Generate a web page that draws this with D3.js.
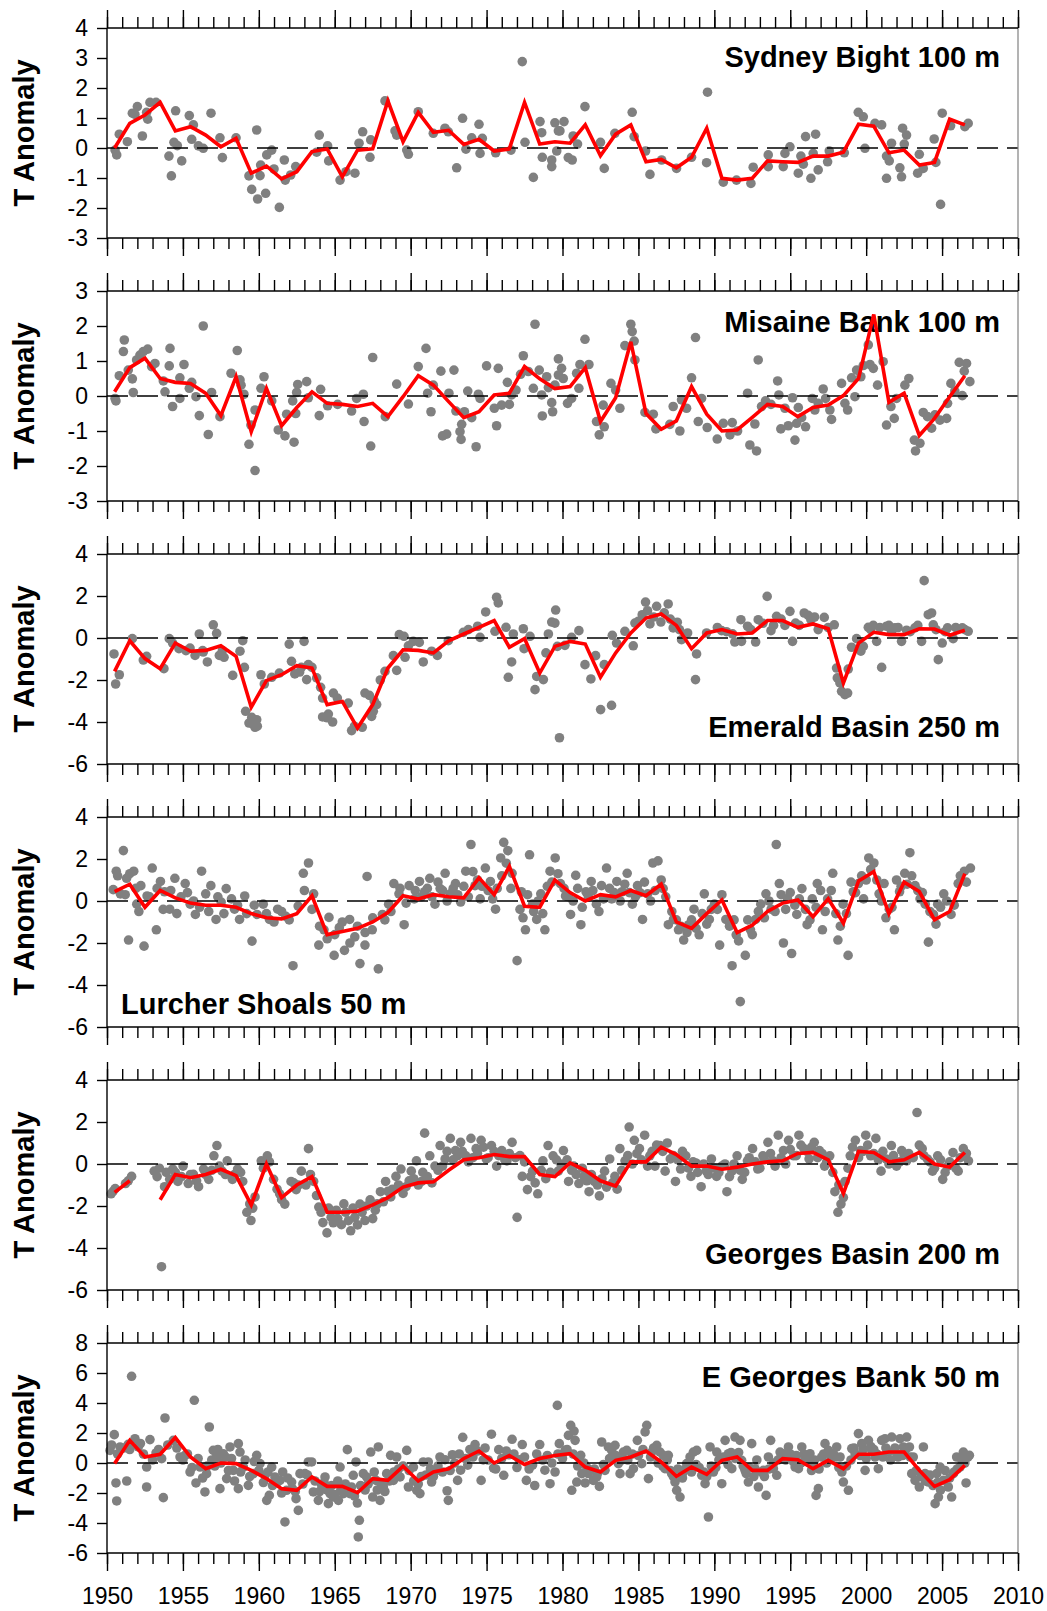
<!DOCTYPE html>
<meta charset="utf-8">
<style>
  body { margin: 0; background: #fff; }
  svg { font-family: "Liberation Sans", Arial, sans-serif; }
  .dot { fill: #808080; }
  .mean { fill: none; stroke: #ff0000; stroke-width: 3.6px; }
  .zero { stroke: #000; stroke-width: 1.5px; stroke-dasharray: 21,9; }
  .axis path { display: none; }
  .axis line { stroke: #000; stroke-width: 1.4px; }
  .axis text { font-size: 23px; fill: #000; }
  .frame { stroke: #000; stroke-width: 1.4px; }
  .frame-right { stroke: #808080; stroke-width: 1.2px; }
  .title, .ylabel { font-size: 29px; font-weight: bold; fill: #000; }
</style>
<svg width="1047" height="1611"></svg>
<script src="https://d3js.org/d3.v7.min.js"></script>
<script>

// annual means, one value per year from 1950 to 2006
var sydneyMean = [0.0, 0.82, 1.1, 1.52, 0.57, 0.71, 0.43, 0.04, 0.32, -0.84,
  -0.6, -1.03, -0.79, -0.12, -0.03, -0.96, -0.07, -0.03, 1.57, 0.21,
  1.19, 0.52, 0.59, 0.12, 0.29, -0.1, -0.03, 1.52, 0.13, 0.21,
  0.16, 0.77, -0.26, 0.46, 0.77, -0.46, -0.38, -0.66, -0.31, 0.66,
  -1.01, -1.07, -1.01, -0.43, -0.46, -0.48, -0.27, -0.27, -0.14, 0.79,
  0.73, -0.16, -0.07, -0.57, -0.48, 0.96, 0.77];

var misaineMean = [0.12, 0.81, 1.08, 0.5, 0.39, 0.36, 0.08, -0.56, 0.55, -1.02,
  0.22, -0.85, -0.33, 0.12, -0.21, -0.24, -0.3, -0.21, -0.59, -0.02,
  0.58, 0.31, -0.16, -0.62, -0.45, 0.03, 0.08, 0.84, 0.49, 0.21,
  0.27, 0.81, -0.73, -0.05, 1.55, -0.5, -0.95, -0.71, 0.27, -0.52,
  -1.0, -0.97, -0.61, -0.24, -0.3, -0.59, -0.33, -0.26, 0.01, 0.5,
  2.33, -0.18, 0.08, -1.13, -0.64, -0.02, 0.58];

var emeraldMean = [-1.59, -0.13, -0.98, -1.46, -0.24, -0.63, -0.59, -0.37, -0.87, -3.3,
  -2.03, -1.75, -1.32, -1.43, -3.17, -3.02, -4.29, -3.17, -1.43, -0.56,
  -0.59, -0.71, -0.13, 0.19, 0.51, 0.83, -0.44, -0.03, -1.67, -0.4,
  -0.16, -0.29, -1.87, -0.71, 0.24, 0.95, 1.14, 0.6, -0.51, 0.24,
  0.4, 0.19, 0.24, 0.83, 0.83, 0.51, 0.67, 0.44, -2.14, -0.24,
  0.27, 0.16, 0.16, 0.44, 0.43, 0.13, 0.37];

var lurcherMean = [0.45, 0.8, -0.3, 0.5, 0.15, -0.1, -0.2, -0.2, -0.3, -0.6,
  -0.8, -0.85, -0.6, 0.25, -1.6, -1.45, -1.3, -1.0, -0.55, 0.25,
  0.1, 0.3, 0.2, 0.15, 1.1, 0.3, 1.65, -0.25, -0.3, 1.0,
  0.4, 0.0, 0.3, 0.2, 0.5, 0.25, 0.8, -1.0, -1.3, -0.6,
  0.05, -1.5, -1.15, -0.5, -0.1, 0.05, -0.75, 0.1, -1.05, 0.95,
  1.4, -0.6, 0.9, 0.45, -0.9, -0.5, 1.3];

var georgesBasinMean = [-1.35, -0.8, null, -1.7, -0.5, -0.65, -0.5, -0.25, -0.55, -1.95,
  0.0, -1.6, -1.0, -0.6, -2.3, -2.3, -2.25, -1.95, -1.6, -1.1,
  -0.9, -0.85, -0.3, 0.2, 0.3, 0.45, 0.35, 0.35, -0.5, -0.6,
  0.05, -0.3, -0.8, -1.05, 0.1, 0.1, 0.8, 0.45, -0.1, -0.1,
  -0.25, -0.15, 0.0, 0.1, 0.15, 0.5, 0.55, 0.2, -1.4, 0.6,
  0.55, 0.1, 0.2, 0.55, 0.0, -0.15, 0.55];

var eGeorgesMean = [-0.04, 1.51, 0.4, 0.58, 1.69, 0.4, -0.38, 0.0, -0.04, -0.49,
  -1.04, -1.71, -1.82, -0.93, -1.56, -1.56, -1.98, -1.04, -1.16, -0.22,
  -1.2, -0.6, -0.38, 0.3, 0.8, 0.0, 0.5, -0.1, 0.3, 0.5,
  0.62, -0.27, -0.6, 0.18, 0.4, 0.8, 0.07, -0.89, -0.27, -0.76,
  0.18, 0.4, -0.49, -0.49, 0.29, 0.22, -0.38, 0.18, -0.38, 0.58,
  0.58, 0.73, 0.73, -0.49, -1.56, -1.11, -0.16];

// individual observations: [decimal year, anomaly]
var sydneyObs = [[1950.53,-0.07],[1950.64,-0.23],[1950.81,0.46],[1951.34,0.21],[1951.67,1.16],[1952.0,1.38],[1951.84,1.12],[1952.33,0.4],[1952.61,1.19],[1952.68,0.96],[1952.83,1.52],[1953.23,1.52],[1954.08,-0.27],[1954.24,-0.93],[1954.41,0.19],[1954.52,1.24],[1954.63,0.08],[1954.92,-0.43],[1955.42,1.08],[1955.58,0.29],[1955.69,0.77],[1956.02,0.07],[1956.34,-0.01],[1956.85,1.16],[1957.44,0.34],[1957.6,-0.32],[1958.5,0.34],[1959.35,-0.93],[1959.53,-1.38],[1959.86,0.6],[1959.92,-1.7],[1960.08,-0.92],[1960.12,-0.57],[1960.45,-1.51],[1960.52,-0.23],[1960.85,-0.07],[1961.0,-0.7],[1961.35,-1.98],[1961.68,-0.4],[1961.74,-1.07],[1962.1,-0.9],[1962.43,-0.62],[1963.81,-0.14],[1963.98,0.43],[1964.53,0.07],[1964.6,-0.43],[1965.35,-1.07],[1965.74,-0.79],[1966.33,-0.84],[1966.6,0.16],[1966.84,0.54],[1967.32,-0.31],[1967.37,0.27],[1968.31,1.57],[1968.97,0.57],[1969.08,0.43],[1969.74,-0.07],[1969.85,-0.21],[1970.5,1.21],[1971.49,0.49],[1972.26,0.66],[1972.48,0.54],[1973.03,-0.66],[1973.42,0.99],[1973.64,-0.04],[1974.02,0.34],[1974.5,0.79],[1974.57,-0.18],[1974.72,0.32],[1975.6,-0.16],[1976.61,-0.07],[1977.35,2.88],[1977.53,0.19],[1978.08,-0.98],[1978.52,0.88],[1978.63,0.51],[1978.67,-0.31],[1979.29,-0.4],[1979.29,-0.62],[1979.5,0.84],[1979.62,-0.1],[1979.73,0.57],
  [1979.83,0.57],[1980.1,0.88],[1980.38,-0.32],[1980.64,-0.4],[1980.7,0.4],[1980.99,0.13],[1981.48,1.38],[1982.5,0.19],[1982.75,-0.68],[1983.45,0.49],[1984.59,1.19],[1984.72,0.38],[1985.47,-0.1],[1985.76,-0.88],[1986.53,-0.4],[1987.51,-0.68],[1988.5,-0.31],[1989.55,1.86],[1989.49,-0.49],[1990.59,-1.14],[1991.46,-1.07],[1992.41,-1.18],[1992.56,-0.64],[1993.55,-0.23],[1993.55,-0.62],[1994.54,-0.62],[1994.65,-0.18],[1994.98,0.04],[1995.53,-0.84],[1995.7,-0.27],[1995.86,-0.54],[1996.01,0.38],[1996.36,-1.01],[1996.51,-0.18],[1996.67,0.46],[1996.84,-0.73],[1997.46,-0.46],[1997.57,-0.1],[1998.56,-0.16],[1999.48,1.19],[1999.81,1.04],[1999.92,-0.01],[2000.58,0.82],[2001.02,0.77],[2001.34,-0.27],[2001.34,-1.01],[2001.52,-0.43],[2001.67,0.16],[2002.22,-0.66],[2002.33,-0.96],[2002.4,0.66],[2002.51,0.13],[2002.66,0.43],[2003.39,-0.84],[2003.5,-0.21],[2003.76,-0.68],[2004.48,0.3],[2004.59,-0.48],[2004.9,-1.88],[2005.01,1.16],[2005.56,0.74],[2006.5,0.71],[2006.72,0.82]];

var misaineObs = [[1950.53,-0.07],[1950.59,-0.14],[1950.81,0.58],[1951.08,1.27],[1951.14,1.6],[1951.4,0.74],[1951.67,0.49],[1951.73,0.1],[1951.95,1.03],[1952.17,1.17],[1952.39,1.27],[1952.68,1.34],[1952.94,0.84],[1953.16,0.93],[1953.71,0.43],[1953.82,0.12],[1954.1,0.86],[1954.15,1.36],[1954.32,-0.3],[1954.8,0.52],[1954.8,-0.07],[1955.07,0.9],[1955.42,0.22],[1955.58,0.39],[1955.86,-0.02],[1956.08,-0.56],[1956.34,2.0],[1956.67,-1.1],[1956.89,0.1],[1957.44,-0.59],[1958.17,0.65],[1958.58,1.3],[1958.76,0.46],[1958.83,0.31],[1959.02,0.05],[1959.35,-1.38],[1959.48,-0.83],[1959.75,-2.13],[1959.75,-0.4],[1960.14,0.22],[1960.34,0.55],[1960.85,-0.14],[1961.28,-0.97],[1961.72,-1.14],[1961.83,-0.52],[1962.32,-1.32],[1962.43,-0.5],[1962.23,-0.14],[1962.49,0.1],[1962.56,0.33],[1963.15,0.41],[1963.26,-0.05],[1963.98,-0.56],[1964.07,0.19],[1964.53,-0.28],[1965.19,-0.24],[1966.11,-0.43],[1966.44,-0.07],[1966.88,0.05],[1966.93,-0.73],[1967.37,-1.43],[1967.5,1.1],[1968.33,-0.59],[1969.08,0.34],[1969.85,-0.23],[1970.5,0.84],[1971.01,1.36],[1971.12,0.08],[1971.34,-0.45],[1971.49,0.31],[1971.99,0.71],[1972.1,-1.14],[1972.37,-1.09],[1972.52,0.08],[1972.85,0.74],[1972.98,-0.43],[1973.25,-1.02],[1973.32,-1.24],[1973.36,-0.81],[1973.54,-0.45],[1973.76,0.14],[1974.02,-0.62],[1974.31,-1.45],[1974.46,0.05],[1974.57,-0.07],[1975.0,0.86],[1975.51,-0.35],[1975.66,-0.85],[1975.77,0.79],[1975.99,-0.26],[1976.37,0.39],[1976.5,-0.24],[1976.65,0.03],[1976.94,0.17],[1977.24,0.62],[1977.42,1.15],[1977.75,0.7],[1978.08,0.22],[1978.19,2.05],[1978.47,0.74],[1978.63,0.03],[1978.67,-0.57],[1978.96,0.55],[1979.07,0.24],[1979.29,-0.19],[1979.35,-0.45],[1979.5,0.31],[1979.73,1.06],[1979.73,0.6],
  [1979.94,0.79],[1980.05,0.5],[1980.33,-0.21],[1980.6,-0.07],[1980.93,0.65],[1981.08,0.22],[1981.15,0.9],[1981.48,1.62],[1981.74,0.9],[1982.24,-0.73],[1982.42,-1.11],[1982.75,-0.88],[1982.68,-0.26],[1983.19,0.36],[1983.5,0.17],[1983.78,-0.35],[1984.11,1.44],[1984.5,2.05],[1984.59,1.84],[1984.72,1.57],[1984.77,1.03],[1985.43,-0.47],[1985.98,-0.52],[1986.15,-0.94],[1987.07,-0.81],[1987.73,-1.0],[1987.29,-0.3],[1987.84,-0.11],[1988.17,-0.35],[1988.5,0.52],[1988.76,1.67],[1988.94,-0.73],[1989.16,-0.07],[1989.53,-0.9],[1990.19,-1.23],[1990.59,-0.78],[1991.03,-1.11],[1991.18,-0.76],[1991.53,-1.0],[1992.19,0.08],[1992.34,-1.4],[1992.67,-0.8],[1992.78,-1.57],[1992.89,1.03],[1993.11,-0.3],[1993.37,-0.14],[1993.73,-0.24],[1994.17,0.43],[1994.25,0.03],[1994.38,-0.94],[1994.65,-0.35],[1994.87,-0.85],[1995.15,-0.05],[1995.31,-1.26],[1995.42,-0.78],[1995.53,-0.33],[1995.75,-0.62],[1996.01,-0.88],[1996.45,-0.07],[1996.62,-0.4],[1996.84,-0.21],[1997.17,0.2],[1997.33,-0.07],[1997.61,-0.4],[1997.72,-0.67],[1998.38,0.36],[1998.6,-0.21],[1998.78,-0.4],[1999.04,0.52],[1999.26,-0.02],[1999.37,0.74],[1999.65,0.55],[1999.81,0.87],[2000.14,1.46],[2000.25,0.9],[2000.47,0.79],[2000.75,0.31],[2001.12,0.98],[2001.34,-0.83],[2001.63,-0.3],[2001.85,-0.64],[2002.0,-0.07],[2002.55,0.31],[2002.81,0.5],[2003.17,-1.26],[2003.25,-1.57],[2003.54,-1.35],[2003.76,-0.47],[2004.04,-0.59],[2004.31,-0.92],[2004.53,-0.54],[2004.86,-0.69],[2005.3,-0.64],[2005.36,-0.21],[2005.58,0.36],[2005.84,0.14],[2006.13,0.96],[2006.33,0.01],[2006.46,0.71],[2006.61,0.93],[2006.83,0.41]];

var emeraldObs = [[1950.46,-0.76],[1950.57,-2.19],[1950.81,-1.75],[1951.67,-0.03],[1952.39,-1.05],[1952.61,-0.87],[1953.75,-1.46],[1954.1,-0.03],[1954.32,-0.24],[1954.74,-0.51],[1955.47,-0.48],[1955.8,-0.83],[1956.08,0.19],[1956.34,-0.67],[1956.61,-1.14],[1957.0,0.63],[1957.22,0.22],[1957.4,-0.83],[1957.71,-0.92],[1958.28,-1.78],[1958.76,-0.63],[1958.94,-0.13],[1959.05,-1.4],[1959.13,-3.49],[1959.35,-4.05],[1959.53,-3.78],[1959.75,-4.25],[1959.86,-3.89],[1960.14,-1.75],[1960.36,-2.19],[1960.85,-1.87],[1961.35,-1.67],[1962.0,-0.29],[1962.15,-1.11],[1962.37,-1.71],[1962.69,-1.62],[1962.98,-0.16],[1963.15,-1.98],[1963.26,-1.27],[1963.81,-1.9],[1964.07,-2.35],[1964.2,-2.86],[1964.2,-3.76],[1964.58,-3.62],[1964.86,-4.0],[1964.91,-2.62],[1965.17,-2.86],[1965.89,-3.1],[1966.11,-4.41],[1966.81,-4.25],[1966.99,-2.62],[1967.28,-2.73],[1967.43,-3.73],[1967.76,-3.17],[1967.54,-3.49],[1968.31,-1.59],[1968.86,-0.84],[1969.08,-1.54],[1969.25,0.16],[1969.56,0.08],[1969.63,-0.92],[1969.85,-0.37],[1970.17,-0.16],[1970.57,-0.21],[1970.83,-1.14],[1971.38,-0.63],[1971.76,-0.83],[1972.48,-0.13],[1973.47,0.27],[1973.8,0.4],[1974.41,0.56],[1974.57,0.03],[1974.94,1.24],[1975.66,1.94],[1975.77,1.67],[1975.55,0.32],[1976.28,0.51],[1976.43,-1.87],[1976.65,-1.14],[1976.76,0.19],[1977.42,0.44],[1977.47,-0.51],[1977.86,0.08],[1978.19,-2.46],[1978.3,-1.83],[1978.74,-1.98],[1978.91,-0.71],[1979.07,0.19],[1979.29,0.76],[1979.55,1.33],[1979.66,-0.4],[1979.8,-4.75],
  [1979.5,0.71],[1980.16,-0.35],[1980.6,0.03],[1981.08,0.35],[1981.48,-1.27],[1981.87,-1.95],[1982.18,-0.84],[1982.51,-3.41],[1982.75,-1.27],[1983.23,-3.21],[1983.28,0.13],[1983.56,-0.24],[1984.11,0.32],[1984.66,-0.37],[1984.77,0.71],[1985.25,1.11],[1985.47,1.71],[1985.76,0.67],[1986.2,1.51],[1986.48,0.76],[1986.96,1.62],[1987.29,0.48],[1987.56,0.75],[1987.84,-0.08],[1988.24,0.24],[1988.76,-1.98],[1988.83,-0.76],[1989.49,0.24],[1990.48,0.35],[1991.35,-0.19],[1991.75,0.87],[1991.79,-0.16],[1992.19,0.56],[1992.72,-0.19],[1992.89,0.87],[1993.48,1.98],[1993.73,0.35],[1994.1,1.03],[1994.65,0.6],[1994.98,1.27],[1995.15,-0.16],[1995.35,0.71],[1995.92,1.19],[1996.18,1.08],[1996.36,0.87],[1996.84,0.4],[1997.24,0.98],[1997.9,0.63],[1998.05,-1.43],[1998.27,-2.14],[1998.38,-2.54],[1998.78,-2.62],[1998.82,-1.48],[1999.04,-0.44],[1999.37,-0.03],[1999.65,-0.63],[1999.81,-0.4],[2000.14,0.51],[2000.47,0.6],[2000.69,-0.16],[2001.02,-1.4],[2001.34,0.56],[2001.67,0.32],[2001.89,0.48],[2002.33,-0.16],[2002.66,0.37],[2003.21,0.48],[2003.65,-0.16],[2003.82,2.73],[2004.09,1.11],[2004.31,1.19],[2004.42,0.63],[2004.75,-1.03],[2005.01,-0.24],[2005.36,0.48],[2005.73,-0.03],[2006.33,0.48],[2006.72,0.32],
  [1955.2,-0.6],[1956.3,-0.6],[1957.6,-0.6],[1959.6,-4.1],[1959.9,-4.2],[1962.8,-1.4],[1963.5,-1.4],[1964.5,-3.8],[1966.3,-4.2],[1967.6,-3.0],[1968.0,-2.0],[1985.0,0.8],[1985.6,1.3],[1986.0,1.0],[1986.7,1.2],[1987.1,0.9],[1987.7,0.4],[1990.2,0.5],[1990.8,0.3],[1991.2,0.2],[1992.4,0.4],[1993.2,0.7],[1993.9,0.6],[1994.4,0.9],[1995.6,0.6],[1996.6,1.0],[1997.5,0.5],[1998.1,-1.9],[1998.6,-2.7],[2000.3,0.4],[2000.9,0.5],[2001.5,0.6],[2002.1,0.5],[2002.9,0.3],[2003.4,0.6],[2004.6,0.4],[2005.2,0.3],[2005.9,0.5],[2006.5,0.4]];

var lurcherObs = [[1950.41,0.54],[1950.61,1.42],[1950.88,0.34],[1951.08,2.4],[1951.29,1.08],[1951.42,-1.86],[1951.76,1.42],[1951.96,-0.15],[1952.23,0.73],[1952.44,-2.15],[1952.64,0.24],[1952.98,1.57],[1953.25,-1.37],[1953.52,0.93],[1953.79,0.44],[1954.13,-0.39],[1954.47,1.08],[1954.87,0.2],[1955.15,0.83],[1955.48,-0.15],[1955.82,-0.64],[1956.23,1.42],[1956.5,0.34],[1956.84,0.73],[1957.18,-0.88],[1957.52,-0.05],[1957.85,0.59],[1958.4,-0.39],[1958.73,-0.88],[1959.07,0.24],[1959.55,-1.91],[1959.88,-0.64],[1960.29,-0.15],[1960.7,-0.88],[1961.24,-0.39],[1961.78,-0.73],[1962.25,-3.08],[1962.59,-0.24],[1962.93,1.32],[1963.27,1.81],[1963.61,0.34],[1963.95,-2.1],[1964.29,-1.37],[1964.62,-0.78],[1964.96,-2.59],[1965.3,-1.27],[1965.64,-2.35],[1965.98,-0.88],[1966.32,-1.71],[1966.66,-2.98],[1966.99,-2.1],[1967.13,1.17],[1967.47,-1.37],[1967.87,-3.23],[1968.14,-0.64],[1968.55,-0.15],[1968.89,0.83],[1969.23,0.34],[1969.57,-1.13],[1969.9,0.73],[1970.24,0.1],[1970.58,0.93],[1970.92,0.44],[1971.26,1.08],[1971.6,-0.15],[1971.94,0.59],[1972.27,1.32],[1972.61,0.34],[1972.95,0.83],[1973.29,-0.05],[1973.63,1.42],[1973.97,2.69],[1974.24,0.73],[1974.58,0.1],[1974.92,1.57],[1975.25,0.93],[1975.59,-0.39],[1975.93,2.05],[1976.13,2.79],[1976.4,2.4],[1976.68,1.32],[1977.01,-2.84],[1977.29,0.44],[1977.56,-1.37],[1977.83,2.2],[1978.03,-0.15],[1978.3,-0.88],[1978.57,0.34],[1978.84,-1.37],[1979.18,1.42],[1979.52,2.05],[1979.86,0.83],[1980.2,0.24],[1980.53,-0.64],[1980.87,1.22],[1981.21,-1.13],[1981.55,0.44],[1981.89,0.93],[1982.23,-0.15],[1982.57,0.73],[1982.9,1.57],[1983.24,0.1],[1983.58,0.93],[1983.92,0.44],[1984.26,1.32],[1984.6,-0.15],[1984.94,0.73],[1985.27,-0.88],[1985.61,0.34],[1985.95,1.81],[1986.29,1.91],[1986.63,0.59],[1986.97,-1.13],[1987.31,-0.88],[1987.64,-1.37],[1987.98,-1.86],[1988.32,-1.13],[1988.66,-0.39],[1989.0,-1.61],[1989.34,0.34],[1989.67,-0.88],[1990.01,-0.15],[1990.35,-2.1],[1990.76,-0.88],[1991.17,-3.08],[1991.44,-1.61],[1991.71,-4.79],[1992.04,-2.59],[1992.38,-1.37],[1992.72,-0.88],[1993.06,-0.15],[1993.4,0.34],[1993.74,-0.39],[1994.08,2.69],[1994.28,0.83],[1994.55,-2.0],[1994.82,0.1],[1995.09,-2.5],[1995.43,-0.64],[1995.77,0.59],[1996.11,-1.13],[1996.45,0.1],[1996.78,0.83],[1997.12,-1.37],[1997.46,0.1],[1997.8,1.32],[1998.14,-1.86],[1998.48,-0.15],[1998.81,-2.59],[1999.15,0.44],[1999.49,0.83],[1999.83,0.1],[2000.17,2.05],[2000.51,1.81],[2000.85,0.34],[2001.18,0.83],[2001.52,-0.39],[2001.86,-1.37],[2002.2,0.44],[2002.54,1.32],[2002.88,2.3],[2003.22,0.73],[2003.55,0.1],[2003.89,-0.15],[2004.1,-1.96],[2004.43,-0.64],[2004.71,-0.15],[2005.11,0.34],[2005.59,-0.64],[2006.06,0.83],[2006.47,1.42],[2006.87,1.57],
  [1950.7,1.2],[1951.2,0.3],[1951.5,1.3],[1951.9,0.6],[1952.1,-0.5],[1952.8,0.2],[1953.3,0.6],[1953.7,-0.4],[1954.2,0.5],[1954.6,-0.6],[1955.3,0.4],[1955.7,0.0],[1956.1,-0.3],[1956.7,-0.5],[1957.3,0.2],[1957.7,-0.6],[1958.2,0.1],[1958.6,-0.2],[1959.2,-0.6],[1959.7,-0.2],
  [1960.5,-0.6],[1961.0,-1.0],[1961.5,-0.5],[1962.0,-0.9],[1963.0,0.5],[1963.5,-0.4],[1964.0,-1.2],[1964.5,-1.8],[1965.0,-1.6],[1965.5,-1.0],[1966.0,-2.0],[1966.5,-1.2],[1967.0,-1.5],[1967.5,-0.8],[1968.3,-0.9],[1968.7,-0.5],[1969.3,0.6],[1969.7,-0.1],
  [1970.3,0.5],[1970.7,0.2],[1971.1,0.6],[1971.4,0.2],[1971.8,0.9],[1972.1,0.5],[1972.4,0.0],[1972.8,0.6],[1973.1,0.3],[1973.5,0.7],[1973.8,0.2],[1974.1,1.4],[1974.4,1.0],[1974.7,0.7],[1975.1,0.5],[1975.4,0.1],[1975.7,0.6],[1976.0,1.2],[1976.3,1.8],[1976.6,0.6],[1977.2,-0.4],[1977.4,-0.8],[1977.7,0.3],[1978.1,-0.5],[1978.4,0.0],[1978.7,-0.6],[1979.0,0.7],[1979.3,0.9],[1979.7,1.3],
  [1980.1,0.6],[1980.4,0.2],[1980.7,0.0],[1981.0,0.6],[1981.3,-0.3],[1981.7,0.2],[1982.0,0.5],[1982.4,-0.5],[1982.7,0.1],[1983.1,0.6],[1983.4,0.4],[1983.8,0.0],[1984.1,0.8],[1984.4,0.4],[1984.8,0.2],[1985.1,0.4],[1985.4,0.9],[1985.8,0.0],[1986.1,0.5],[1986.5,1.0],[1986.8,0.2],[1987.2,-0.5],[1987.5,-0.9],[1987.8,-1.2],[1988.2,-1.5],[1988.5,-0.9],[1988.8,-1.3],[1989.2,-0.6],[1989.5,-1.1],[1989.8,-0.4],
  [1990.2,-0.4],[1990.5,0.3],[1991.0,-1.2],[1991.3,-0.9],[1991.6,-1.9],[1992.2,-0.9],[1992.5,-1.6],[1992.9,-0.5],[1993.3,-0.8],[1993.6,0.0],[1994.0,-0.5],[1994.4,0.3],[1994.7,-0.4],[1995.0,0.4],[1995.3,-0.2],[1995.6,0.1],[1996.0,-0.4],[1996.3,-0.9],[1996.7,-0.3],[1997.0,0.5],[1997.3,-0.5],[1997.7,0.5],[1998.0,-0.6],[1998.3,-1.2],[1998.7,-0.6],[1999.0,0.9],[1999.3,0.4],[1999.7,1.2],
  [2000.0,1.0],[2000.3,1.5],[2000.7,1.0],[2001.0,0.0],[2001.3,-0.8],[2001.7,-0.3],[2002.0,1.0],[2002.3,0.7],[2002.7,0.8],[2003.0,1.2],[2003.4,0.5],[2003.7,0.4],[2004.2,-0.5],[2004.6,-1.1],[2004.9,-0.3],[2005.3,0.0],[2005.8,-0.2],[2006.2,1.2],[2006.6,0.9]];

var georgesBasinObs = [[1950.27,-1.42],[1950.54,-1.17],[1951.22,-0.93],[1951.62,-0.59],[1953.11,-0.34],[1953.45,-0.2],[1953.59,-4.89],[1953.79,-1.08],[1954.13,-0.73],[1954.33,-0.24],[1954.67,-0.83],[1955.01,-0.1],[1955.35,-0.93],[1955.69,-0.49],[1956.03,-1.08],[1956.36,-0.24],[1956.7,-0.73],[1957.04,0.39],[1957.24,0.88],[1957.58,-0.34],[1957.92,0.15],[1958.26,-0.73],[1958.6,-0.24],[1958.94,-0.83],[1959.21,-2.3],[1959.48,-2.69],[1959.75,-1.57],[1960.16,0.15],[1960.56,0.39],[1960.97,-0.73],[1961.37,-1.42],[1961.71,-1.91],[1962.12,-0.83],[1962.46,-1.22],[1962.8,-0.34],[1963.27,0.73],[1963.61,-0.83],[1963.95,-2.05],[1964.22,-2.79],[1964.49,-3.28],[1964.76,-2.54],[1965.1,-2.2],[1965.44,-2.89],[1965.71,-2.3],[1966.05,-3.18],[1966.32,-2.54],[1966.66,-1.91],[1966.99,-2.69],[1967.33,-1.71],[1967.67,-2.2],[1968.01,-1.32],[1968.35,-0.83],[1968.69,-1.57],[1969.03,-0.59],[1969.36,-0.24],[1969.7,-1.08],[1970.04,-0.34],[1970.38,0.15],[1970.72,-0.83],[1970.92,1.47],[1971.26,0.39],[1971.6,-0.1],[1971.94,0.88],[1972.27,0.24],[1972.61,1.22],[1972.95,0.64],[1973.29,1.03],[1973.63,0.39],[1973.97,1.22],[1974.31,0.73],[1974.64,1.13],[1974.98,0.24],[1975.32,0.88],[1975.66,-0.1],[1976.0,0.64],[1976.34,0.15],[1976.68,1.03],[1977.01,-2.54],[1977.35,-0.59],[1977.69,-1.22],[1978.03,-0.34],[1978.37,-1.42],[1978.71,0.15],[1979.05,0.88],[1979.38,0.39],[1979.72,-0.34],[1980.06,0.64],[1980.4,-0.83],[1980.74,-0.1],[1981.08,-0.93],[1981.42,-0.59],[1981.75,-1.32],[1982.09,-0.83],[1982.43,-1.52],[1982.77,-0.34],[1983.11,0.24],[1983.45,-0.59],[1983.78,0.73],[1984.12,0.15],[1984.39,1.76],[1984.73,1.13],[1985.07,0.73],[1985.41,1.37],[1985.75,0.39],[1986.09,-0.1],[1986.43,0.88],[1986.76,-0.34],[1987.1,0.24],[1987.44,-0.83],[1987.78,-0.24],[1988.12,0.39],[1988.46,-0.59],[1988.79,0.05],[1989.13,-1.08],[1989.47,-0.34],[1989.81,0.24],[1990.15,-0.59],[1990.49,-0.1],[1990.83,-1.32],[1991.16,-0.34],[1991.5,0.39],[1991.84,-0.73],[1992.18,0.15],[1992.52,0.73],[1992.86,-0.24],[1993.2,0.39],[1993.53,1.03],[1993.87,0.15],[1994.21,1.37],[1994.55,0.64],[1994.89,1.13],[1995.23,0.39],[1995.57,1.37],[1995.9,0.73],[1996.24,0.24],[1996.58,1.03],[1996.92,0.64],[1997.26,-0.1],[1997.6,0.39],[1997.94,-1.32],[1998.14,-2.3],[1998.34,-1.91],[1998.61,-0.83],[1998.95,0.39],[1999.29,1.13],[1999.63,0.64],[1999.97,1.37],[2000.3,0.39],[2000.64,1.22],[2000.98,-0.34],[2001.32,0.24],[2001.66,0.88],[2002.0,-0.1],[2002.34,0.64],[2002.67,0.15],[2003.35,2.45],[2003.69,0.73],[2004.03,0.24],[2004.37,-0.34],[2004.71,0.39],[2005.04,-0.73],[2005.38,-0.1],[2005.72,0.54],[2006.06,-0.34],[2006.4,0.73],[2006.74,0.15],
  [1950.4,-1.3],[1951.4,-0.8],[1953.3,-0.6],[1953.9,-0.4],[1954.5,-0.4],[1954.9,-0.6],[1955.5,-0.5],[1955.9,-0.8],[1956.5,-0.5],[1956.9,-0.3],[1957.4,-0.1],[1957.8,-0.5],[1958.4,-0.5],[1958.8,-0.4],[1959.4,-1.9],[1959.6,-2.1],[1960.3,-0.2],[1960.7,0.1],[1961.2,-1.2],[1961.5,-1.7],[1962.3,-0.9],[1962.6,-1.0],[1963.1,-1.0],[1963.4,-0.5],[1963.8,-1.5],[1964.1,-2.3],[1964.6,-2.1],[1964.9,-2.8],[1965.2,-2.6],[1965.6,-1.9],[1965.9,-2.7],[1966.2,-2.1],[1966.5,-2.9],[1966.8,-2.3],[1967.1,-2.0],[1967.5,-2.6],[1967.8,-1.9],[1968.2,-1.8],[1968.5,-1.3],[1968.8,-1.2],[1969.2,-1.0],[1969.5,-1.4],[1969.9,-0.8],[1970.2,-0.7],[1970.5,-1.0],[1970.8,-0.4],[1971.1,-0.6],[1971.4,-0.9],[1971.8,-0.3],[1972.1,-0.1],[1972.4,0.6],[1972.8,0.2],[1973.1,0.4],[1973.4,0.6],[1973.8,0.1],[1974.1,0.3],[1974.4,0.5],[1974.8,0.8],[1975.1,0.3],[1975.5,0.6],[1975.8,0.4],[1976.2,0.2],[1976.5,0.5],[1976.9,0.3],[1977.2,0.4],[1977.5,0.1],[1977.9,-0.6],[1978.2,-0.9],[1978.6,-0.3],[1978.9,-0.7],[1979.2,-0.4],[1979.6,0.2],[1979.9,0.0],[1980.3,0.2],[1980.6,-0.3],[1980.9,-0.5],[1981.3,-0.2],[1981.6,-0.8],[1981.9,-0.5],[1982.3,-1.0],[1982.6,-0.7],[1982.9,-1.1],[1983.3,-0.9],[1983.6,-1.2],[1983.9,-0.3],[1984.3,0.4],[1984.6,0.0],[1984.9,0.5],[1985.2,0.2],[1985.6,-0.1],[1985.9,0.6],[1986.2,0.9],[1986.6,0.6],[1986.9,1.0],[1987.3,0.4],[1987.6,0.2],[1987.9,0.6],[1988.3,-0.2],[1988.6,0.1],[1988.9,-0.4],[1989.3,0.0],[1989.6,-0.5],[1990.0,-0.2],[1990.3,-0.4],[1990.7,0.0],[1991.0,-0.6],[1991.3,0.0],[1991.7,-0.3],[1992.0,-0.4],[1992.3,0.3],[1992.7,0.1],[1993.0,-0.2],[1993.3,0.2],[1993.7,0.5],[1994.0,-0.1],[1994.4,0.3],[1994.7,0.0],[1995.0,0.7],[1995.4,0.4],[1995.7,0.9],[1996.1,0.6],[1996.4,0.8],[1996.8,0.3],[1997.1,0.5],[1997.4,0.1],[1997.8,-0.4],[1998.2,-1.0],[1998.5,-1.6],[1998.8,-0.2],[1999.1,0.8],[1999.5,0.3],[1999.8,0.6],[2000.1,0.9],[2000.5,0.5],[2000.8,0.2],[2001.1,0.6],[2001.5,0.0],[2001.8,0.4],[2002.2,0.1],[2002.5,0.4],[2002.8,0.5],[2003.1,0.3],[2003.5,0.9],[2003.8,0.4],[2004.2,0.1],[2004.5,-0.2],[2004.9,0.2],[2005.2,-0.4],[2005.5,0.1],[2005.9,-0.2],[2006.2,0.3],[2006.6,0.5]];

var eGeorgesObs = [[1950.2,0.84],[1950.48,1.89],[1950.59,-1.33],[1950.64,-2.53],[1950.86,1.07],[1951.3,-1.2],[1951.4,1.24],[1951.62,5.78],[1951.84,1.62],[1952.06,1.07],[1952.61,-0.27],[1952.61,-1.6],[1952.83,1.56],[1953.23,0.67],[1953.6,0.29],[1953.71,-2.31],[1953.82,3.0],[1954.37,1.51],[1954.81,0.4],[1955.14,0.51],[1955.47,-0.6],[1955.75,4.18],[1955.86,-1.33],[1956.13,-0.27],[1956.45,-1.93],[1956.56,-0.71],[1956.74,2.4],[1957.0,0.84],[1957.22,0.4],[1957.44,-1.71],[1957.66,0.62],[1957.88,-1.04],[1958.1,1.07],[1958.32,-0.49],[1958.65,1.29],[1958.65,-1.71],[1958.76,0.73],[1958.98,-0.27],[1959.31,-1.49],[1959.64,-0.71],[1959.86,0.51],[1960.08,-0.04],[1960.41,-0.82],[1960.52,-2.49],[1960.69,-2.16],[1960.85,-0.27],[1961.06,-0.93],[1961.39,-1.16],[1961.57,-0.6],[1961.72,-3.93],[1961.83,-1.82],[1962.16,-1.27],[1962.45,-2.38],[1962.6,-3.16],[1962.71,-0.71],[1963.04,-0.71],[1963.26,0.07],[1963.48,0.07],[1963.59,-1.93],[1963.92,-2.49],[1964.14,-1.49],[1964.36,-0.93],[1964.58,-2.71],[1964.69,-2.04],[1964.91,-2.27],[1965.24,-2.49],[1965.35,-0.27],[1965.57,-2.04],[1965.83,0.89],[1966.0,-2.04],[1966.22,-0.82],[1966.4,0.07],[1966.49,-2.67],[1966.62,-3.82],[1966.55,-4.93],[1966.88,-0.71],[1967.1,-0.93],[1967.37,0.73],[1967.5,-2.27],[1967.72,-1.16],[1967.87,1.07],[1967.98,-2.49],[1968.2,-1.6],[1968.42,-0.71],[1968.68,0.51],[1968.86,-1.16],[1969.08,0.4],[1969.3,-0.93],[1969.74,0.84],[1969.85,-1.6],[1970.18,-0.27],[1970.4,-1.82],[1970.61,-2.04],[1970.83,0.07],[1971.16,0.07],[1971.38,-1.27],[1971.71,-0.49],[1971.93,0.4],[1972.26,0.22],[1972.48,-2.49],
  [1972.4,-1.85],[1972.75,0.55],[1973.09,-1.16],[1973.29,-0.48],[1973.43,1.71],[1973.76,-0.14],[1974.24,1.23],[1974.64,-1.16],[1974.78,0.21],[1975.32,1.92],[1975.46,-0.34],[1975.8,0.89],[1976.13,-0.82],[1976.47,0.55],[1976.68,1.58],[1977.15,0.21],[1977.35,1.23],[1977.62,-1.16],[1978.03,-0.14],[1978.17,-1.5],[1978.5,1.23],[1978.84,-0.48],
  [1979.66,3.84],[1979.18,-1.38],[1979.51,-0.6],[1979.79,1.29],[1979.95,0.51],[1980.17,0.84],[1980.39,1.84],[1980.54,2.51],[1980.61,-1.82],[1980.76,2.13],[1980.83,1.51],[1980.94,-1.27],[1981.2,0.51],[1981.27,-0.71],[1981.49,-1.33],[1981.59,-0.27],[1981.81,-0.49],[1982.03,-1.16],[1982.25,-0.93],[1982.43,-1.56],[1982.58,1.4],[1982.8,-0.49],[1983.02,1.07],[1983.24,0.84],[1983.46,1.18],[1983.68,-0.04],[1983.79,-0.71],[1984.01,0.73],[1984.23,0.84],[1984.45,-0.71],[1984.67,-0.38],[1984.93,1.51],[1985.22,-0.04],[1985.44,2.07],[1985.55,2.51],[1985.66,-1.04],[1985.88,0.73],[1986.21,1.18],[1986.42,0.73],[1986.64,0.51],[1986.75,-0.38],[1986.97,0.51],[1987.19,-0.71],[1987.41,-1.27],[1987.52,-1.82],[1987.74,-2.27],[1987.96,-0.6],[1988.18,-0.04],[1988.4,0.4],[1988.62,0.73],[1988.84,0.84],[1989.17,-0.82],[1989.39,-1.38],[1989.61,-3.6],[1989.72,1.07],[1989.94,-0.6],[1990.16,0.73],[1990.49,-1.38],[1990.71,1.51],[1990.93,0.62],[1991.15,-0.38],[1991.36,1.73],[1991.69,1.51],[1991.8,0.18],[1992.02,-0.49],[1992.24,-1.27],[1992.46,1.29],[1992.68,-0.38],[1992.9,-1.6],[1993.23,-0.49],[1993.41,-2.16],[1993.56,0.4],[1993.71,1.51],[1993.89,-0.38],[1994.11,-0.82],[1994.33,0.73],[1994.55,0.62],[1994.88,1.07],[1995.1,0.4],[1995.32,-0.27],[1995.54,-0.38],[1995.76,1.07],[1995.97,0.4],[1996.3,0.62],[1996.52,-0.04],[1996.7,-2.16],[1996.85,-1.71],[1997.07,0.4],[1997.29,1.29],[1997.51,0.84],[1997.84,0.62],[1998.06,1.07],[1998.28,0.4],[1998.5,-1.27],[1998.83,-1.82],[1999.05,0.96],[1999.27,0.62],[1999.49,1.96],[1999.71,1.29],[1999.93,-0.49],[2000.15,1.51],[2000.37,0.84],[2000.59,0.4],[2000.8,-0.38],[2001.02,1.51],[2001.24,1.62],[2001.46,0.73],[2001.68,1.73],[2002.01,0.62],[2002.23,1.62],[2002.45,1.07],[2002.67,1.73],[2002.85,1.07],[2003.0,-0.71],[2003.22,-1.16],[2003.5,-1.6],[2003.77,1.07],[2003.88,-0.71],[2004.1,-1.27],[2004.54,-2.71],[2004.65,-0.71],[2004.76,-2.27],[2004.87,-0.27],[2005.09,-1.16],[2005.41,-1.6],[2005.63,-2.27],[2005.74,-0.71],[2005.96,0.4],[2006.18,-0.27],[2006.4,0.73],[2006.58,-1.33],[2006.8,0.51],
  [1950.3,1.2],[1950.7,0.6],[1951.1,1.0],[1951.5,0.9],[1952.2,1.3],[1952.4,0.6],[1953.0,0.2],[1953.4,0.9],[1954.0,1.2],[1954.6,1.0],[1955.0,0.2],[1955.3,0.6],[1955.6,-0.3],[1956.0,0.3],[1956.3,-1.0],[1956.6,-0.2],[1956.9,0.2],[1957.1,-0.2],[1957.3,0.9],[1957.5,0.0],[1957.8,0.4],[1958.0,-0.5],[1958.2,0.3],[1958.4,-1.2],[1958.8,-0.6],[1959.1,0.2],[1959.4,-0.9],[1959.7,0.1],[1960.0,-0.5],[1960.3,-1.3],[1960.6,-0.6],[1960.9,-1.5],[1961.2,-1.3],[1961.5,-2.0],[1961.9,-1.0],[1962.2,-1.7],[1962.4,-1.9],[1962.9,-1.4],[1963.2,-0.8],[1963.7,-1.2],[1964.0,-1.9],[1964.3,-1.3],[1964.5,-1.8],[1964.8,-1.5],[1965.0,-2.1],[1965.2,-1.2],[1965.4,-1.8],[1965.7,-1.4],[1966.1,-1.6],[1966.3,-2.2],[1966.7,-1.5],[1967.0,-1.8],[1967.2,-1.4],[1967.6,-0.6],[1967.8,-1.8],[1968.0,-1.3],[1968.3,-1.9],[1968.6,-1.2],[1968.9,-0.6],[1969.2,-0.4],[1969.5,-0.2],[1969.9,-0.5],[1970.2,-1.2],[1970.5,-1.4],[1970.7,-0.9],[1971.0,-0.8],[1971.3,-0.4],[1971.5,-0.9],[1971.8,-0.2],[1972.1,-0.6],[1972.6,-0.5],[1972.9,0.0],[1973.2,0.6],[1973.6,0.3],[1973.9,0.9],[1974.1,0.4],[1974.4,0.8],[1974.9,1.0],[1975.1,0.2],[1975.6,-0.4],[1976.0,0.3],[1976.3,0.8],[1976.8,0.6],[1977.0,-0.3],[1977.5,0.4],[1977.8,-0.4],[1978.3,0.6],[1978.7,0.2],[1979.0,0.5],[1979.3,0.0],[1979.7,0.6],[1980.0,0.3],[1980.3,0.9],[1980.7,0.6],[1981.0,-0.2],[1981.4,0.0],[1981.7,-0.7],[1982.1,-0.4],[1982.3,-0.7],[1982.7,-0.1],[1983.1,0.3],[1983.5,0.5],[1983.9,0.2],[1984.3,0.2],[1984.6,0.6],[1985.0,0.5],[1985.3,0.9],[1985.8,0.4],[1986.0,1.0],[1986.3,0.0],[1986.6,-0.2],[1986.9,0.2],[1987.1,-0.5],[1987.3,-0.9],[1987.6,-0.4],[1987.9,-1.0],[1988.1,-0.4],[1988.3,0.0],[1988.5,-0.6],[1988.8,-0.1],[1989.0,-0.3],[1989.3,-0.6],[1989.5,-0.9],[1989.8,-0.2],[1990.1,-0.3],[1990.3,0.2],[1990.6,0.4],[1990.9,-0.1],[1991.1,0.7],[1991.4,0.3],[1991.6,0.7],[1991.9,-0.2],[1992.1,-0.7],[1992.3,-0.3],[1992.6,-0.9],[1992.8,0.2],[1993.1,-0.6],[1993.3,-0.9],[1993.6,-0.4],[1993.9,0.0],[1994.2,0.2],[1994.4,0.4],[1994.7,0.2],[1995.0,0.6],[1995.2,0.1],[1995.4,0.5],[1995.7,0.0],[1995.9,0.6],[1996.2,0.2],[1996.4,-0.5],[1996.6,0.2],[1996.9,-0.4],[1997.2,0.6],[1997.4,0.0],[1997.7,0.3],[1998.0,0.4],[1998.2,-0.3],[1998.4,-0.6],[1998.7,-0.2],[1999.0,0.2],[1999.2,1.0],[1999.6,0.5],[1999.8,0.9],[2000.0,0.3],[2000.3,1.1],[2000.5,0.9],[2000.7,0.6],[2001.1,0.4],[2001.3,1.0],[2001.6,0.2],[2001.9,1.0],[2002.1,0.4],[2002.4,0.5],[2002.6,0.9],[2002.9,0.4],[2003.1,0.4],[2003.3,-0.5],[2003.6,-0.9],[2003.9,-1.2],[2004.2,-0.8],[2004.4,-1.5],[2004.7,-1.3],[2004.9,-1.8],[2005.2,-0.5],[2005.5,-1.0],[2005.8,-0.6],[2006.0,-0.4],[2006.3,0.2],[2006.5,0.0],[2006.7,0.4]];

var titles = ["Sydney Bight 100 m", "Misaine Bank 100 m", "Emerald Basin 250 m",
  "Lurcher Shoals 50 m", "Georges Basin 200 m", "E Georges Bank 50 m"];
var yDomains = [[-3, 4], [-3, 3], [-6, 4], [-6, 4], [-6, 4], [-6, 8]];
var yStep = [1, 1, 2, 2, 2, 2];
var allObs = [sydneyObs, misaineObs, emeraldObs, lurcherObs, georgesBasinObs, eGeorgesObs];
var allMeans = [sydneyMean, misaineMean, emeraldMean, lurcherMean, georgesBasinMean, eGeorgesMean];
var firstYear = 1950;
var years = d3.range(1950, 2011);
var majorYears = d3.range(1950, 2011, 5);

// layout
var panelTop = [28, 291, 554, 817, 1080, 1343], panelH = 210;
var titlePos = [
  {x: 1000, y: 67, anchor: "end"},
  {x: 1000, y: 332, anchor: "end"},
  {x: 1000, y: 737, anchor: "end"},
  {x: 121, y: 1014, anchor: "start"},
  {x: 1000, y: 1264, anchor: "end"},
  {x: 1000, y: 1387, anchor: "end"}
];

var svg = d3.select("svg");
var x = d3.scaleLinear().domain([1950, 2010]).range([107, 1018]);

titles.forEach(function(title, i) {
  var top = panelTop[i], bottom = top + panelH;
  var y = d3.scaleLinear().domain(yDomains[i]).range([bottom, top]);
  var g = svg.append("g");

  g.selectAll(".dot")
      .data(allObs[i])
    .enter().append("circle")
      .attr("class", "dot")
      .attr("cx", function(d) { return x(d[0]); })
      .attr("cy", function(d) { return y(d[1]); })
      .attr("r", 4.8);

  g.append("line")
      .attr("class", "zero")
      .attr("x1", x(1950)).attr("x2", x(2010))
      .attr("y1", y(0)).attr("y2", y(0));

  g.append("text")
      .attr("class", "title")
      .attr("x", titlePos[i].x)
      .attr("y", titlePos[i].y)
      .style("text-anchor", titlePos[i].anchor)
      .text(title);

  var line = d3.line()
      .defined(function(d) { return d != null; })
      .x(function(d, j) { return x(firstYear + j + 0.5); })
      .y(function(d) { return y(d); });

  g.append("path")
      .datum(allMeans[i])
      .attr("class", "mean")
      .attr("d", line);

  // frame
  g.append("line").attr("class", "frame-right")
      .attr("x1", x(2010)).attr("x2", x(2010)).attr("y1", top).attr("y2", bottom);
  g.append("line").attr("class", "frame")
      .attr("x1", x(1950)).attr("x2", x(2010)).attr("y1", top).attr("y2", top);
  g.append("line").attr("class", "frame")
      .attr("x1", x(1950)).attr("x2", x(2010)).attr("y1", bottom).attr("y2", bottom);
  g.append("line").attr("class", "frame")
      .attr("x1", x(1950)).attr("x2", x(1950)).attr("y1", top).attr("y2", bottom);

  var lo = yDomains[i][0], hi = yDomains[i][1];
  g.append("g")
      .attr("class", "axis")
      .attr("transform", "translate(" + x(1950) + ",0)")
      .call(d3.axisLeft(y)
        .tickValues(d3.range(lo, hi + yStep[i] / 2, yStep[i]))
        .tickSize(10).tickPadding(9)
        .tickFormat(function(d) { return String(d); }));

  g.append("g").attr("class", "axis")
      .attr("transform", "translate(0," + top + ")")
      .call(d3.axisTop(x).tickValues(years).tickSize(11).tickFormat(""));
  g.append("g").attr("class", "axis")
      .attr("transform", "translate(0," + top + ")")
      .call(d3.axisTop(x).tickValues(majorYears).tickSize(18).tickFormat(""));
  g.append("g").attr("class", "axis")
      .attr("transform", "translate(0," + bottom + ")")
      .call(d3.axisBottom(x).tickValues(years).tickSize(11).tickFormat(""));
  g.append("g").attr("class", "axis")
      .attr("transform", "translate(0," + bottom + ")")
      .call(d3.axisBottom(x).tickValues(majorYears).tickSize(18).tickPadding(17)
        .tickFormat(i === titles.length - 1 ? d3.format("d") : ""));

  g.append("text")
      .attr("class", "ylabel")
      .attr("transform", "translate(33.5," + (top + panelH / 2) + ")rotate(-90)")
      .style("text-anchor", "middle")
      .text("T Anomaly");
});

</script>
